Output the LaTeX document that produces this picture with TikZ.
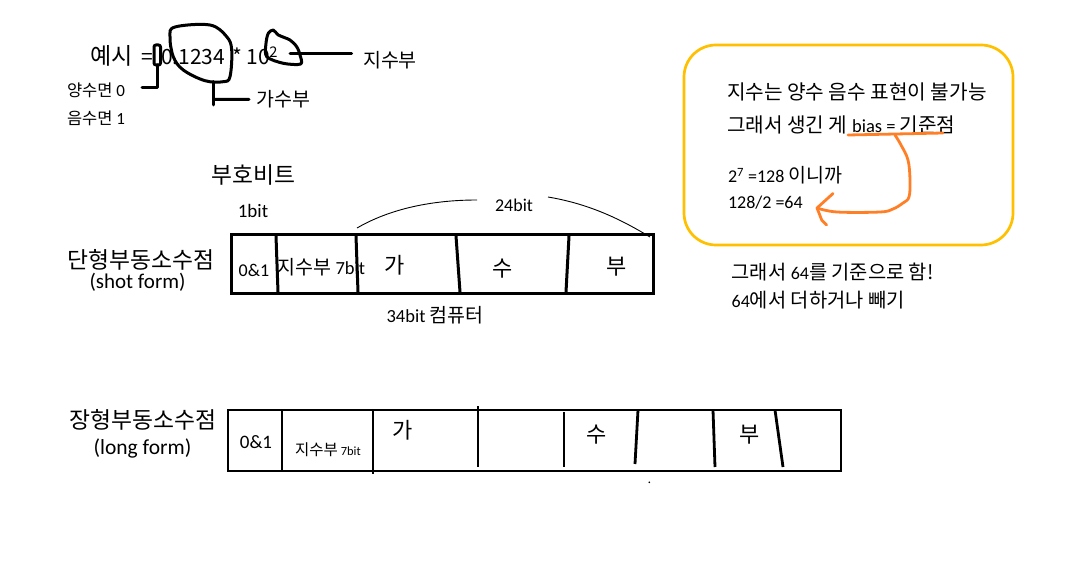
\documentclass[tikz,border=0pt]{standalone}
\usepackage{fontspec}
\setmainfont{Carlito}
\newfontfamily\kr{Noto Sans CJK KR}
\newcommand{\hangul}[2]{{\kr\fontsize{#1}{#1}\selectfont #2}}
\definecolor{boxyellow}{RGB}{255,192,0}
\definecolor{penorange}{RGB}{255,127,39}
\tikzset{
  txt/.style={inner sep=0pt, outer sep=0pt},
  pen/.style={line width=3pt, line cap=round, line join=round},
  cellline/.style={line width=3pt},
  longline/.style={line width=2.8pt},
  thinline/.style={line width=0.9pt},
  orangepen/.style={line width=2.8pt, color=penorange, line cap=round, line join=round},
  fs/.style={font=\fontsize{#1}{#1}\selectfont}
}
\begin{document}
\begin{tikzpicture}[x=1pt,y=-1pt]
\useasboundingbox (0,0) rectangle (1073,569);
\fill[white] (0,0) rectangle (1073,569);

% ---- top example ----
\node[txt, anchor=base west] (ex) at (90,65) {\hangul{23}{예시}};
\node[txt, anchor=base west] (eq) at (141,65) {\hangul{21}{=}};
\node[txt, anchor=base west] (mant) at (161,65) {\hangul{21}{0.1234}};
\node[txt, anchor=base west] (expo) at (232,65) {\hangul{21}{* 10\kern-0.5pt\textsuperscript{2}}};

\draw[pen, rounded corners=2pt] (154,45) rectangle (160.5,65);
\draw[pen] (157.5,65) -- (157.5,88) -- (142,88);

\draw[pen] plot[smooth cycle, tension=0.6] coordinates {(175,27) (210,25) (226.7,36.7) (231.7,50) (230,76.7) (223.3,81.7) (205,80.7) (183.3,70) (173.3,56.7) (170,36.7)};
\draw[pen] (213.3,81.7) -- (213.3,105);
\draw[pen] (215,99.5) -- (249,99.3);

\draw[pen] plot[smooth cycle, tension=0.5] coordinates {(268.3,33.3) (273.3,30) (278.3,35) (290,40) (296.7,46.7) (300,55) (300.7,64) (283.3,63.3) (266.7,56.7) (266,43.3)};
\draw[pen] (290,53.3) -- (351.7,53.3);

\node[txt, fs=17] (posl) at (96,90) {\hangul{16.5}{양수면} 0};
\node[txt, fs=17] (negl) at (96,118) {\hangul{16.5}{음수면} 1};
\node[txt] (mantl) at (283.5,99) {\hangul{19.5}{가수부}};
\node[txt] (expl) at (390,60) {\hangul{19.5}{지수부}};

% ---- short form ----
\node[txt] (signl) at (253.5,175) {\hangul{22.8}{부호비트}};
\node[txt, fs=19] (onebit) at (253,211) {1bit};
\node[txt, fs=18] (b24) at (514,205) {24bit};
\draw[thinline] (357,228) .. controls (395,206) and (440,200) .. (477,200);
\draw[thinline] (548,197) .. controls (590,204) and (622,220) .. (650,237);

\node[txt] (short) at (141,260) {\hangul{22.8}{단형부동소수점}};
\node[txt, fs=21] (shortf) at (137.5,282) {(shot form)};

\draw[cellline] (231,235) rectangle (653,293);
\draw[cellline] (276,236) -- (278,292);
\draw[cellline] (356,236) -- (358,292);
\draw[cellline] (456,236) -- (460,292);
\draw[cellline] (569,236) -- (566,292);

\node[txt, fs=18] (s01) at (254,270) {0\&1};
\node[txt, fs=18.5, anchor=west] (sexp) at (277.5,267) {\hangul{19.5}{지수부} 7bit};
\node[txt] (sga) at (395,265) {\hangul{22}{가}};
\node[txt] (ssu) at (503,269) {\hangul{22}{수}};
\node[txt] (sbu) at (617,267) {\hangul{22}{부}};
\node[txt, fs=18.5] (b34) at (435,315) {34bit \hangul{19.5}{컴퓨터}};

% ---- long form ----
\node[txt] (long) at (143,420) {\hangul{22.8}{장형부동소수점}};
\node[txt, fs=21.5] (longf) at (142.5,448) {(long form)};

\draw[longline] (228,410) rectangle (841,471);
\draw[longline] (282,410) -- (282,471);
\draw[longline] (373,410) -- (373,474);
\draw[longline] (478,406) -- (478,467);
\draw[longline] (564,412) -- (564,467);
\draw[longline] (638,410) -- (635,464);
\draw[longline] (713,410) -- (715,467);
\draw[longline] (775,410) -- (783,467);

\node[txt, fs=19] (l01) at (256,442) {0\&1};
\node[txt, fs=12.5] (lexp) at (328,450) {\hangul{15.5}{지수부} 7bit};
\node[txt] (lga) at (403,430) {\hangul{22}{가}};
\node[txt] (lsu) at (597,435) {\hangul{22}{수}};
\node[txt] (lbu) at (750,435) {\hangul{22}{부}};
\fill (649.3,482.3) circle (0.9pt);

% ---- bias box ----
\draw[line width=2.7pt, color=boxyellow, rounded corners=32pt] (684,45) rectangle (1013,245);
\node[txt, anchor=west] (t1) at (727,92) {\hangul{20.2}{지수는 양수 음수 표현이 불가능}};
\node[txt, fs=18.5, anchor=west] (t2) at (727,125) {\hangul{20.2}{그래서 생긴 게 }bias = \hangul{20.2}{기준점}};
\node[txt, fs=18, anchor=west] (t3) at (728,175) {2\textsuperscript{7} =128 \hangul{19.5}{이니까}};
\node[txt, fs=18, anchor=west] (t4) at (728,203) {128/2 =64};

\coordinate (ustart) at (848,135);
\coordinate (uend) at (943,133);
\coordinate (tip) at (817,208);
\draw[orangepen] (ustart) -- (uend);
\draw[orangepen] plot[smooth, tension=0.6] coordinates {(895,135) (901,145) (908,160) (910,180) (909,197) (903,203) (893,209) (880,212) (837,212) (tip)};
\draw[orangepen] (833,193.5) -- (tip) -- (821.7,220) -- (826.7,225);

\node[txt, fs=18, anchor=west] (r1) at (731.7,272) {\hangul{19.8}{그래서 }64\hangul{19.8}{를 기준으로 함!}};
\node[txt, fs=18, anchor=west] (r2) at (731.7,300) {64\hangul{19.8}{에서 더하거나 빼기}};
\end{tikzpicture}
\end{document}
